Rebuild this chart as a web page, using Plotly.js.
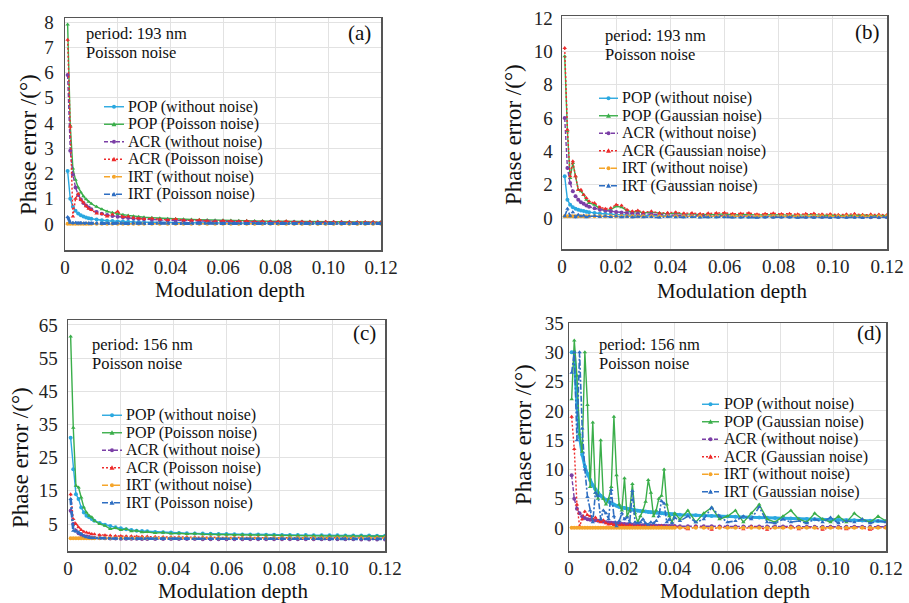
<!DOCTYPE html>
<html><head><meta charset="utf-8">
<script src="https://cdn.plot.ly/plotly-3.0.1.min.js"></script>
<style>html,body{margin:0;padding:0;background:#fff}#chart{width:909px;height:603px}</style>
</head><body><div id="chart"></div>
<script>
// ---------- data ----------
const xa = [0.001,0.002,0.003,0.004,0.005,0.006,0.007,0.008,0.009,0.010,
0.012,0.014,0.016,0.018,0.020,0.022,0.024,0.026,0.028,0.030,
0.033,0.036,0.039,0.042,0.045,0.048,0.051,0.054,0.057,0.060,
0.063,0.066,0.069,0.072,0.075,0.078,0.081,0.084,0.087,0.090,
0.093,0.096,0.099,0.102,0.105,0.108,0.111,0.114,0.117,0.120];

const xd = [0.001,0.002,0.003,0.004,0.005,0.006,0.007,0.008,0.009,0.010,
0.011,0.012,0.013,0.014,0.015,0.016,0.017,0.018,0.019,0.020,
0.021,0.022,0.023,0.024,0.025,0.026,0.027,0.028,0.029,0.030,
0.031,0.032,0.033,0.034,0.035,0.036,0.037,0.038,0.039,0.040,
0.042,0.045,0.048,0.051,0.054,0.057,0.060,0.063,0.066,0.069,
0.072,0.075,0.078,0.081,0.084,0.087,0.090,0.093,0.096,0.099,
0.102,0.105,0.108,0.111,0.114,0.117,0.120];

const xTickVals = [0,0.02,0.04,0.06,0.08,0.10,0.12];
const xTickText = ['0','0.02','0.04','0.06','0.08','0.10','0.12'];

const labelsPoisson = ['POP (without noise)','POP (Poisson noise)','ACR (without noise)','ACR (Poisson noise)','IRT (without noise)','IRT (Poisson noise)'];
const labelsGauss = ['POP (without noise)','POP (Gaussian noise)','ACR (without noise)','ACR (Gaussian noise)','IRT (without noise)','IRT (Gaussian noise)'];

// panel (a)
const aPopClean = [2.1,1.0,0.68,0.52,0.42,0.35,0.30,0.26,0.23,0.21,
0.18,0.15,0.13,0.12,0.10,0.095,0.088,0.080,0.075,0.070,
0.063,0.058,0.054,0.050,0.047,0.044,0.041,0.039,0.037,0.035,
0.033,0.032,0.031,0.029,0.028,0.027,0.026,0.025,0.024,0.023,
0.022,0.022,0.021,0.020,0.020,0.019,0.018,0.018,0.017,0.017];
const aPopNoise = [7.9,3.9,2.2,1.75,1.45,1.25,1.1,0.98,0.88,0.8,
0.68,0.58,0.5,0.45,0.4,0.37,0.34,0.31,0.29,0.27,
0.25,0.23,0.21,0.2,0.19,0.18,0.17,0.16,0.15,0.15,
0.14,0.13,0.13,0.12,0.12,0.11,0.11,0.11,0.1,0.1,
0.1,0.095,0.09,0.09,0.088,0.085,0.082,0.08,0.078,0.075];
const aAcrClean = [5.9,2.9,1.95,1.45,1.15,0.97,0.83,0.73,0.65,0.58,
0.48,0.41,0.36,0.32,0.29,0.26,0.24,0.22,0.21,0.19,
0.17,0.16,0.15,0.14,0.13,0.12,0.11,0.11,0.1,0.1,
0.09,0.09,0.085,0.08,0.078,0.075,0.072,0.07,0.067,0.065,
0.063,0.061,0.059,0.057,0.055,0.054,0.052,0.051,0.05,0.048];
const aAcrNoise = [7.3,3.85,0.3,1.0,1.2,0.95,0.85,0.7,0.6,0.55,
0.42,0.4,0.3,0.38,0.5,0.28,0.3,0.25,0.22,0.2,
0.22,0.18,0.16,0.2,0.15,0.14,0.16,0.12,0.1,0.13,
0.11,0.1,0.12,0.09,0.1,0.08,0.09,0.11,0.08,0.09,
0.08,0.07,0.09,0.08,0.07,0.08,0.06,0.07,0.08,0.07];
const aIrtClean = [0.01,0.01,0.01,0.01,0.01,0.01,0.01,0.01,0.01,0.01,
0.01,0.01,0.01,0.01,0.01,0.01,0.01,0.01,0.01,0.01,
0.01,0.01,0.01,0.01,0.01,0.01,0.01,0.01,0.01,0.01,
0.01,0.01,0.01,0.01,0.01,0.01,0.01,0.01,0.01,0.01,
0.01,0.01,0.01,0.01,0.01,0.01,0.01,0.01,0.01,0.01];
const aIrtNoise = [0.28,0.05,0.04,0.05,0.03,0.04,0.03,0.04,0.03,0.03,
0.03,0.02,0.03,0.02,0.03,0.02,0.02,0.03,0.02,0.02,
0.02,0.03,0.02,0.02,0.02,0.02,0.03,0.02,0.02,0.02,
0.02,0.02,0.02,0.03,0.02,0.02,0.02,0.02,0.02,0.02,
0.02,0.02,0.02,0.02,0.02,0.02,0.02,0.02,0.02,0.02];

// panel (b)
const bPopClean = [2.5,1.1,0.8,0.65,0.55,0.5,0.45,0.42,0.38,0.35,
0.3,0.27,0.25,0.22,0.2,0.19,0.18,0.17,0.16,0.15,
0.14,0.13,0.12,0.12,0.11,0.1,0.1,0.095,0.09,0.09,
0.085,0.08,0.08,0.075,0.075,0.07,0.07,0.068,0.065,0.065,
0.062,0.06,0.06,0.058,0.056,0.055,0.054,0.052,0.05,0.05];
const bPopNoise = [9.7,5.2,2.4,3.3,2.5,1.7,1.6,1.4,1.1,0.9,
0.8,0.55,0.45,0.5,0.7,0.65,0.45,0.35,0.4,0.3,
0.35,0.28,0.25,0.3,0.22,0.25,0.2,0.22,0.2,0.25,
0.18,0.2,0.22,0.17,0.2,0.18,0.2,0.16,0.18,0.17,
0.2,0.16,0.18,0.15,0.17,0.16,0.18,0.15,0.16,0.15];
const bAcrClean = [6.0,3.0,2.1,1.6,1.3,1.1,0.95,0.85,0.75,0.68,
0.58,0.5,0.45,0.4,0.36,0.33,0.3,0.28,0.26,0.24,
0.22,0.2,0.19,0.17,0.16,0.15,0.14,0.13,0.13,0.12,
0.115,0.11,0.105,0.1,0.097,0.094,0.09,0.087,0.084,0.081,
0.078,0.076,0.074,0.072,0.07,0.068,0.066,0.065,0.063,0.062];
const bAcrNoise = [10.2,5.3,2.5,3.4,2.5,1.7,1.7,1.4,1.2,1.0,
0.9,0.65,0.55,0.6,0.8,0.75,0.5,0.4,0.45,0.35,
0.4,0.3,0.32,0.35,0.28,0.3,0.25,0.28,0.3,0.32,
0.25,0.27,0.3,0.22,0.25,0.28,0.24,0.26,0.22,0.25,
0.27,0.22,0.24,0.2,0.23,0.25,0.2,0.22,0.21,0.2];
const bIrtClean = [0.1,0.1,0.1,0.1,0.1,0.1,0.1,0.1,0.1,0.1,
0.1,0.1,0.1,0.1,0.1,0.1,0.1,0.1,0.1,0.1,
0.1,0.1,0.1,0.1,0.1,0.1,0.1,0.1,0.1,0.1,
0.1,0.1,0.1,0.1,0.1,0.1,0.1,0.1,0.1,0.1,
0.1,0.1,0.1,0.1,0.1,0.1,0.1,0.1,0.1,0.1];
const bIrtNoise = [0.1,0.55,0.1,0.35,0.05,0.2,0.1,0.15,0.05,0.1,
0.12,0.08,0.1,0.06,0.1,0.05,0.08,0.04,0.07,0.05,
0.06,0.03,0.07,0.05,0.04,0.06,0.03,0.05,0.04,0.06,
0.03,0.05,0.04,0.02,0.05,0.03,0.04,0.05,0.02,0.04,
0.03,0.05,0.02,0.04,0.03,0.04,0.02,0.05,0.03,0.04];

// panel (c)
const cPopClean = [31,21.5,14,12.5,10,8.5,7.5,7,6.5,6,
5.3,4.8,4.4,4.0,3.7,3.4,3.2,3.0,2.9,2.8,
2.6,2.5,2.4,2.3,2.2,2.15,2.1,2.05,2.0,1.95,
1.9,1.87,1.84,1.8,1.77,1.74,1.72,1.7,1.68,1.66,
1.64,1.62,1.6,1.58,1.56,1.54,1.52,1.5,1.49,1.48];
const cPopNoise = [61.5,34,16.5,16,13,10,8.5,7.5,7,6,
5,4.5,3.5,3.8,3.2,3.5,2.8,3,2.5,2.6,
2.3,2.4,2.1,2.2,2.0,2.1,1.9,1.9,1.8,1.85,
1.7,1.75,1.7,1.65,1.6,1.6,1.55,1.5,1.5,1.48,
1.45,1.42,1.4,1.4,1.38,1.36,1.35,1.33,1.32,1.3];
const cAcrClean = [9,5,3,2.2,1.7,1.4,1.2,1.05,0.95,0.85,
0.75,0.7,0.65,0.6,0.58,0.55,0.53,0.52,0.5,0.5,
0.48,0.47,0.46,0.45,0.45,0.44,0.43,0.43,0.42,0.42,
0.41,0.41,0.4,0.4,0.4,0.39,0.39,0.39,0.38,0.38,
0.38,0.38,0.37,0.37,0.37,0.37,0.36,0.36,0.36,0.36];
const cAcrNoise = [14,6.5,5,4,3.2,2.7,2.4,2.2,2.0,1.9,
1.7,1.6,1.5,1.4,1.35,1.3,1.3,1.25,1.2,1.2,
1.15,1.1,1.1,1.05,1.05,1.0,1.0,1.0,0.95,0.95,
0.95,0.9,0.9,0.9,0.9,0.88,0.88,0.87,0.86,0.86,
0.85,0.85,0.84,0.84,0.83,0.83,0.82,0.82,0.82,0.81];
const cIrtClean = [0.7,0.7,0.7,0.7,0.7,0.7,0.7,0.7,0.7,0.7,
0.7,0.7,0.7,0.7,0.7,0.7,0.7,0.7,0.7,0.7,
0.7,0.7,0.7,0.7,0.7,0.7,0.7,0.7,0.7,0.7,
0.7,0.7,0.7,0.7,0.7,0.7,0.7,0.7,0.7,0.7,
0.7,0.7,0.7,0.7,0.7,0.7,0.7,0.7,0.7,0.7];
const cIrtNoise = [12.5,3,2.8,2.5,2,1.3,1.0,0.9,0.8,0.75,
0.7,0.7,0.65,0.65,0.6,0.62,0.6,0.6,0.58,0.6,
0.58,0.57,0.58,0.56,0.57,0.55,0.56,0.55,0.56,0.55,
0.54,0.55,0.54,0.55,0.53,0.54,0.53,0.54,0.53,0.53,
0.52,0.53,0.52,0.53,0.52,0.52,0.51,0.52,0.51,0.51];

// panel (d)
const dPopClean = [30,30,21,15.5,12.5,10.5,9.2,8.2,7.3,6.6,
6.0,5.5,5.1,4.8,4.5,4.2,4.0,3.8,3.6,3.5,
3.4,3.3,3.2,3.1,3.0,2.95,2.9,2.85,2.8,2.75,
2.7,2.65,2.6,2.56,2.52,2.48,2.44,2.4,2.36,2.33,
2.28,2.22,2.16,2.1,2.05,2.0,1.95,1.9,1.86,1.82,
1.78,1.74,1.7,1.66,1.62,1.58,1.54,1.5,1.46,1.42,
1.38,1.34,1.3,1.26,1.22,1.18,1.15];
const dPopNoise = [22,32,26,16,13,30,21,7,18,6,
5,15,5,4,5,7,19,9,4,3,
8.5,2,3,7.5,2.5,1,2,3,4.5,8.2,
6,2,3,5,5.5,10,4,2,1,2.5,
1.5,3,1,2.5,3.5,1.5,2,3,1,2.5,
4,1.5,1,2,3,1.5,1,2.5,1.5,1,
2,1,2.5,1.5,1,2,1.2];
const dAcrClean = [9,5,3.3,2.5,2,1.7,1.5,1.4,1.35,1.3,
1.25,1.2,1.1,1.0,0.95,0.9,0.85,0.8,0.75,0.7,
0.66,0.62,0.58,0.55,0.52,0.5,0.48,0.46,0.44,0.42,
0.41,0.4,0.39,0.38,0.37,0.36,0.35,0.34,0.33,0.32,
0.31,0.3,0.29,0.28,0.28,0.27,0.27,0.26,0.26,0.25,
0.25,0.25,0.24,0.24,0.24,0.23,0.23,0.23,0.22,0.22,
0.22,0.22,0.21,0.21,0.21,0.21,0.2];
const dAcrNoise = [19,13.5,4,0.3,1.5,2.8,2.2,2.0,1.5,1.8,
1.2,1.0,1.3,0.8,0.6,0.7,0.5,0.6,0.4,0.5,
0.4,0.3,0.5,0.3,0.2,0.4,0.3,0.2,0.3,0.1,
0.2,0.3,0.1,0.2,0.3,0.1,0.2,0.1,0,0.2,
0.1,-0.2,0.2,0.1,-0.3,0.2,0,0.1,-0.2,0.2,
0.1,-0.3,0.1,0,0.2,-0.2,0.1,0,-0.3,0.1,
0,-0.2,0.1,0,-0.3,0.1,0];
const dIrtClean = [0.05,0.05,0.05,0.05,0.05,0.05,0.05,0.05,0.05,0.05,
0.05,0.05,0.05,0.05,0.05,0.05,0.05,0.05,0.05,0.05,
0.05,0.05,0.05,0.05,0.05,0.05,0.05,0.05,0.05,0.05,
0.05,0.05,0.05,0.05,0.05,0.05,0.05,0.05,0.05,0.05,
0.05,0.05,0.05,0.05,0.05,0.05,0.05,0.05,0.05,0.05,
0.05,0.05,0.05,0.05,0.05,0.05,0.05,0.05,0.05,0.05,
0.05,0.05,0.05,0.05,0.05,0.05,0.05];
const dIrtNoise = [26.5,30,15,30,17,10,5.3,3,1,6,
5.5,1.5,3,2.5,1.5,6.5,2,0.3,1.2,2.5,
1.5,1.8,1,6.3,1,0.8,1,1.5,0.8,0.6,
1,0.8,1.2,2,4.6,4.2,1,1.5,0.8,1.8,
1.2,2,1,1.5,3.5,2,1,1.2,2,1.5,
3.6,1,0.8,1.5,1,1.2,0.8,1.5,1,1.8,
0.8,1.2,1,1.5,0.8,1.2,1];

// ---------- rendering ----------
const W = 909, H = 603;
const FONT = 'Liberation Serif';
const fx = p => p / W, fy = p => 1 - p / H;

const styles = [
  {color:'#2aa8e0', dash:'solid', sym:'circle'},
  {color:'#3aae4a', dash:'solid', sym:'triangle-up'},
  {color:'#7b3fa6', dash:'4px,2px', sym:'circle'},
  {color:'#ee2b2b', dash:'2px,2px', sym:'triangle-up'},
  {color:'#f5a52a', dash:'6px,2px,2px,2px', sym:'circle'},
  {color:'#2e6ec2', dash:'6px,2px,2px,2px', sym:'triangle-up'}
];

const panels = [
  {x:xa, series:[aPopClean,aPopNoise,aAcrClean,aAcrNoise,aIrtClean,aIrtNoise], labels:labelsPoisson,
   box:[65,381,18,250], yr:[-1.03,8.16], yt:[0,1,2,3,4,5,6,7,8], irtW:3, ystand:6,
   leg:{x0:104,x1:124,tx:126,rows:[106.75,124.25,141.75,159.25,176.75,194.25]},
   per:'period: 193 nm', perPos:[84,34,52], tag:'(a)', tagPos:[359,33], yTitle:[28,145], xTitle:[230,290]},
  {x:xa, series:[bPopClean,bPopNoise,bAcrClean,bAcrNoise,bIrtClean,bIrtNoise], labels:labelsGauss,
   box:[562,887,16,249], yr:[-1.86,12.12], yt:[0,2,4,6,8,10,12], irtW:1.6, ystand:4,
   leg:{x0:599,x1:618,tx:620,rows:[98.25,115.75,133.25,150.75,168.25,185.75]},
   per:'period: 193 nm', perPos:[603,36,54], tag:'(b)', tagPos:[867,32], yTitle:[513,135], xTitle:[732,291]},
  {x:xa, series:[cPopClean,cPopNoise,cAcrClean,cAcrNoise,cIrtClean,cIrtNoise], labels:labelsPoisson,
   box:[68,385,320,551], yr:[-3.14,66.5], yt:[5,15,25,35,45,55,65], irtW:2.6, ystand:5,
   leg:{x0:102,x1:122,tx:124,rows:[415.25,432.75,450.25,467.75,485.25,502.75]},
   per:'period: 156 nm', perPos:[90,345,363], tag:'(c)', tagPos:[364,333], yTitle:[20,458], xTitle:[233,591]},
  {x:xd, series:[dPopClean,dPopNoise,dAcrClean,dAcrNoise,dIrtClean,dIrtNoise], labels:labelsGauss,
   box:[569,886,323,551], yr:[-3.93,35.0], yt:[0,5,10,15,20,25,30,35], irtW:1.6, ystand:0,
   leg:{x0:702,x1:719,tx:722,rows:[404.25,421.75,439.25,456.75,474.25,491.75]},
   per:'period: 156 nm', perPos:[597,345,363], tag:'(d)', tagPos:[869,333], yTitle:[523,435], xTitle:[735,591]}
];

const traces = [], shapes = [], annotations = [];
const layout = {
  width: W, height: H, margin:{l:0,r:0,t:0,b:0},
  paper_bgcolor:'#ffffff', plot_bgcolor:'#ffffff', showlegend:false,
  font:{family:FONT, color:'#222'}
};

panels.forEach((p, i) => {
  const n = i === 0 ? '' : String(i + 1);
  layout['xaxis' + n] = {
    domain:[fx(p.box[0]), fx(p.box[1])], range:[0,0.12], anchor:'y' + n,
    tickmode:'array', tickvals:xTickVals, ticktext:xTickText,
    showline:true, mirror:true, linecolor:'#555', linewidth:1.5,
    showgrid:true, gridcolor:'#e2e2e2', gridwidth:1, zeroline:false, ticks:'',
    tickfont:{family:FONT, size:19, color:'#222'}
  };
  layout['yaxis' + n] = {
    domain:[fy(p.box[3]), fy(p.box[2])], range:p.yr, anchor:'x' + n,
    tickmode:'array', tickvals:p.yt, ticklabelstandoff:p.ystand,
    showline:true, mirror:true, linecolor:'#555', linewidth:1.5,
    showgrid:true, gridcolor:'#e2e2e2', gridwidth:1, zeroline:false, ticks:'',
    tickfont:{family:FONT, size:19, color:'#222'}
  };
  p.series.forEach((s, j) => {
    const st = styles[j];
    let w = 1.4;
    if (i === 3 && j === 0) w = 3;
    if (j === 5) w = p.irtW;
    traces.push({
      type:'scatter', mode:'lines+markers', x:p.x, y:s, name:p.labels[j],
      xaxis:'x' + n, yaxis:'y' + n, showlegend:false, cliponaxis:true,
      line:{color:st.color, width:w, dash:st.dash},
      marker:{symbol:st.sym, size:4, color:st.color}
    });
    // legend entry drawn manually
    const ry = p.leg.rows[j];
    shapes.push({type:'line', xref:'paper', yref:'paper', x0:fx(p.leg.x0), x1:fx(p.leg.x1), y0:fy(ry), y1:fy(ry),
      line:{color:st.color, width:1.4, dash:st.dash}});
    const mx = (p.leg.x0 + p.leg.x1) / 2;
    if (st.sym === 'circle') {
      shapes.push({type:'circle', xref:'paper', yref:'paper', x0:fx(mx - 2), x1:fx(mx + 2), y0:fy(ry + 2), y1:fy(ry - 2),
        fillcolor:st.color, line:{width:0}});
    } else {
      shapes.push({type:'path', xref:'paper', yref:'paper',
        path:`M ${fx(mx - 2.5)},${fy(ry + 2)} L ${fx(mx + 2.5)},${fy(ry + 2)} L ${fx(mx)},${fy(ry - 2.5)} Z`,
        fillcolor:st.color, line:{width:0}});
    }
    annotations.push({xref:'paper', yref:'paper', x:fx(p.leg.tx), y:fy(ry), xanchor:'left', yanchor:'middle',
      text:p.labels[j], showarrow:false, font:{family:FONT, size:16, color:'#111'}});
  });
  annotations.push({xref:'paper', yref:'paper', x:fx(p.perPos[0]), y:fy(p.perPos[1]), xanchor:'left', yanchor:'middle',
    text:p.per, showarrow:false, font:{family:FONT, size:16.5, color:'#111'}});
  annotations.push({xref:'paper', yref:'paper', x:fx(p.perPos[0]), y:fy(p.perPos[2]), xanchor:'left', yanchor:'middle',
    text:'Poisson noise', showarrow:false, font:{family:FONT, size:16.5, color:'#111'}});
  annotations.push({xref:'paper', yref:'paper', x:fx(p.tagPos[0]), y:fy(p.tagPos[1]), xanchor:'center', yanchor:'middle',
    text:p.tag, showarrow:false, font:{family:FONT, size:21, color:'#111'}});
  annotations.push({xref:'paper', yref:'paper', x:fx(p.yTitle[0]), y:fy(p.yTitle[1]), xanchor:'center', yanchor:'middle',
    text:'Phase error /(°)', textangle:-90, showarrow:false, font:{family:FONT, size:23, color:'#111'}});
  annotations.push({xref:'paper', yref:'paper', x:fx(p.xTitle[0]), y:fy(p.xTitle[1]), xanchor:'center', yanchor:'middle',
    text:'Modulation depth', showarrow:false, font:{family:FONT, size:21, color:'#111'}});
});

layout.shapes = shapes;
layout.annotations = annotations;
Plotly.newPlot('chart', traces, layout, {displayModeBar:false, staticPlot:true});
</script>
</body></html>
